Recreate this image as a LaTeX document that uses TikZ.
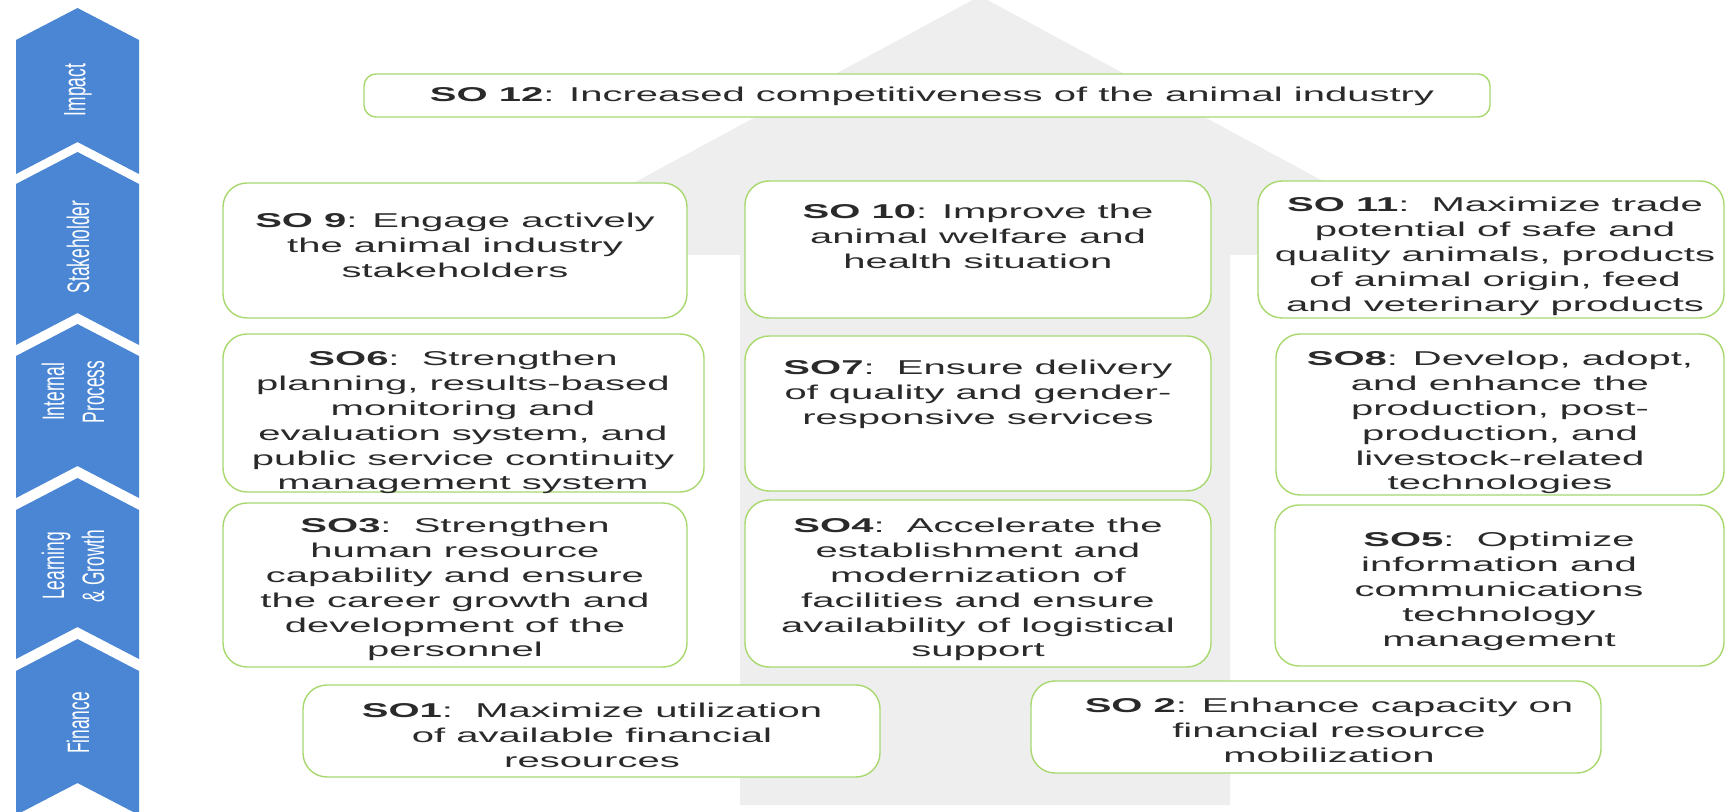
\documentclass[tikz,border=0pt]{standalone}
\usepackage{fontspec}
\setmainfont{Liberation Sans}[FakeStretch=2.0]
\newfontfamily\tabfont{Liberation Sans}[FakeStretch=0.56]
\usepackage{xcolor}
\usepackage{tikz}

\definecolor{colTabBlue}  {HTML}{4A86D4}
\definecolor{colBoxLine}  {HTML}{A8D86E}
\definecolor{colArrowBg}  {HTML}{EEEEEE}
\definecolor{colText}     {HTML}{2A2A2A}

\tikzset{
  sobox/.style={
    draw=colBoxLine, fill=white, line width=0.7pt,
    rounded corners=12pt, inner sep=0pt, outer sep=0pt
  },
  boxsize/.style 2 args={minimum width=#1*0.5pt, minimum height=#2*0.5pt},
  sotext/.style={
    anchor=north, align=center, inner sep=0pt, text=colText,
    font=\fontsize{10}{12.4}\selectfont
  },
  tab/.style={fill=colTabBlue},
  tablabel/.style={
    rotate=90, align=center, inner sep=0pt, text=white,
    font=\tabfont\fontsize{15.5}{20}\selectfont
  }
}
% one upward chevron of the perspective column: #1 tip, #2 notch
\newcommand{\tabchevron}[2]{%
  \fill[tab] (77.5,#1) -- (139,#1+32) -- (139,#2+32)
    -- (77.5,#2) -- (16,#2+32) -- (16,#1+32) -- cycle;%
}

\begin{document}
\begin{tikzpicture}[x=0.5pt, y=-0.5pt]
  \useasboundingbox (0,0) rectangle (1726,812);
  \clip (0,0) rectangle (1726,812);
  \fill[white] (0,0) rectangle (1726,812);

  %% ── Background arrow ─────────────────────────────────────────────
  \fill[colArrowBg] (980,-4) -- (1460,255) -- (1230,255) -- (1230,805)
    -- (740,805) -- (740,255) -- (500,255) -- cycle;

  %% ── Perspective column ───────────────────────────────────────────
  \tabchevron{8}{142}
  \tabchevron{152}{313}
  \tabchevron{324}{466}
  \tabchevron{478}{627}
  \tabchevron{639}{783}

  \node[tablabel] (tabImpact)   at (78,90)  {Impact};
  \node[tablabel] (tabStake)    at (78,247) {Stakeholder};
  \node[tablabel] (tabProcess)  at (73,392) {Internal\\Process};
  \node[tablabel] (tabLearning) at (73,566) {Learning\\\& Growth};
  \node[tablabel] (tabFinance)  at (78,723) {Finance};

  %% ── Impact ───────────────────────────────────────────────────────
  \node[sobox, boxsize={1126}{43}, rounded corners=6pt] (so12) at (927,95.5) {};
  \node[sotext, anchor=center] (so12txt) at (932,96)
    {\textbf{SO 12}: Increased competitiveness of the animal industry};

  %% ── Stakeholder ──────────────────────────────────────────────────
  \node[sobox, boxsize={464}{135}] (so9)  at (455,250.5) {};
  \node[sobox, boxsize={466}{137}] (so10) at (978,249.5) {};
  \node[sobox, boxsize={466}{137}] (so11) at (1491,249.5) {};

  \node[sotext] (so9txt)  at (455,213)
    {\textbf{SO 9}: Engage actively\\the animal industry\\stakeholders};
  \node[sotext] (so10txt) at (978,204)
    {\textbf{SO 10}: Improve the\\animal welfare and\\health situation};
  \node[sotext] (so11txt) at (1495,197)
    {\textbf{SO 11}:\ \ Maximize trade\\potential of safe and\\quality animals, products\\of animal origin, feed\\and veterinary products};

  %% ── Internal process ─────────────────────────────────────────────
  \node[sobox, boxsize={481}{158}] (so6) at (463.5,413) {};
  \node[sobox, boxsize={466}{155}] (so7) at (978,413.5) {};
  \node[sobox, boxsize={448}{161}] (so8) at (1500,414.5) {};

  \node[sotext] (so6txt) at (463,351)
    {\textbf{SO6}:\ \ Strengthen\\planning, results-based\\monitoring and\\evaluation system, and\\public service continuity\\management system};
  \node[sotext] (so7txt) at (978,360)
    {\textbf{SO7}:\ \ Ensure delivery\\of quality and gender-\\responsive services};
  \node[sotext] (so8txt) at (1500,351)
    {\textbf{SO8}: Develop, adopt,\\and enhance the\\production, post-\\production, and\\livestock-related\\technologies};

  %% ── Learning & growth ────────────────────────────────────────────
  \node[sobox, boxsize={464}{164}] (so3) at (455,585) {};
  \node[sobox, boxsize={466}{167}] (so4) at (978,583.5) {};
  \node[sobox, boxsize={449}{161}] (so5) at (1499.5,585.5) {};

  \node[sotext] (so3txt) at (455,518)
    {\textbf{SO3}:\ \ Strengthen\\human resource\\capability and ensure\\the career growth and\\development of the\\personnel};
  \node[sotext] (so4txt) at (978,518)
    {\textbf{SO4}:\ \ Accelerate the\\establishment and\\modernization of\\facilities and ensure\\availability of logistical\\support};
  \node[sotext] (so5txt) at (1499,532)
    {\textbf{SO5}:\ \ Optimize\\information and\\communications\\technology\\management};

  %% ── Finance ──────────────────────────────────────────────────────
  \node[sobox, boxsize={577}{92}] (so1) at (591.5,731) {};
  \node[sobox, boxsize={570}{92}] (so2) at (1316,727) {};

  \node[sotext] (so1txt) at (592,703)
    {\textbf{SO1}:\ \ Maximize utilization\\of available financial\\resources};
  \node[sotext] (so2txt) at (1329,698)
    {\textbf{SO 2}: Enhance capacity on\\financial resource\\mobilization};
\end{tikzpicture}
\end{document}
